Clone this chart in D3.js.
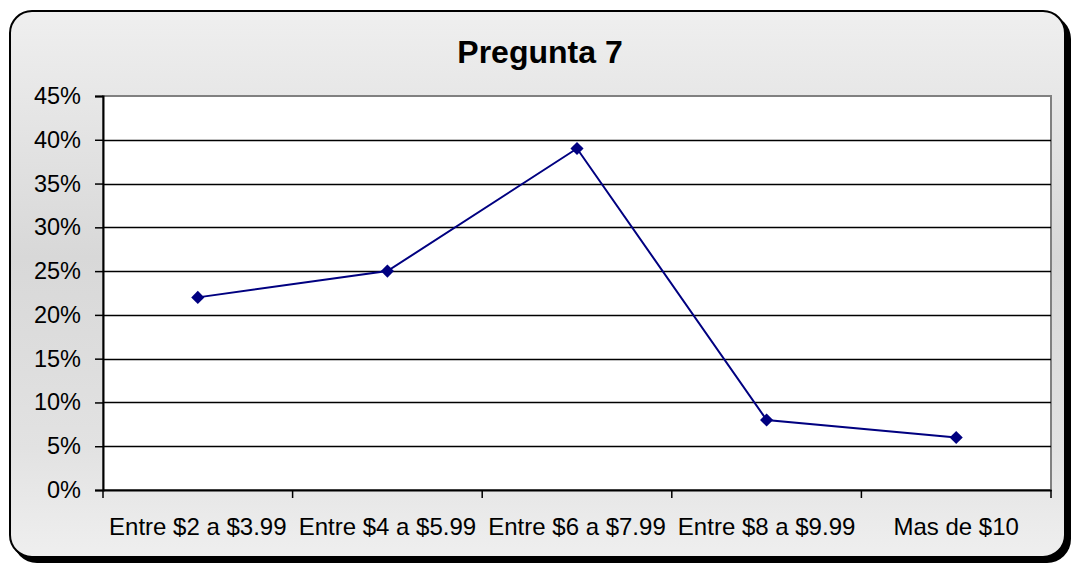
<!DOCTYPE html>
<html>
<head>
<meta charset="utf-8">
<script src="https://cdn.jsdelivr.net/npm/d3@7"></script>
<style>
  body { margin: 0; background: #fff; }
  text { font-family: "Liberation Sans", Arial, sans-serif; }
</style>
</head>
<body>
<div id="chart"></div>
<script>
const categories = ['Entre $2 a $3.99', 'Entre $4 a $5.99', 'Entre $6 a $7.99', 'Entre $8 a $9.99', 'Mas de $10'];
const values = [0.22, 0.25, 0.39, 0.08, 0.06];
const yTicks = [0, 0.05, 0.10, 0.15, 0.20, 0.25, 0.30, 0.35, 0.40, 0.45];

const width = 1074, height = 566;
const plot = { left: 103, right: 1051, top: 96, bottom: 490 };

const svg = d3.select('#chart').append('svg')
  .attr('width', width)
  .attr('height', height);

const defs = svg.append('defs');
const grad = defs.append('linearGradient')
  .attr('id', 'bg').attr('x1', 0).attr('y1', 0).attr('x2', 0).attr('y2', 1);
grad.append('stop').attr('offset', '0%').attr('stop-color', '#efefef');
grad.append('stop').attr('offset', '45%').attr('stop-color', '#d8d8d8');
grad.append('stop').attr('offset', '80%').attr('stop-color', '#e2e2e2');
grad.append('stop').attr('offset', '100%').attr('stop-color', '#efefef');

// shadow + frame
svg.append('rect')
  .attr('x', 13).attr('y', 15).attr('width', 1058).attr('height', 548)
  .attr('rx', 24).attr('fill', '#000');
svg.append('rect')
  .attr('x', 10).attr('y', 11).attr('width', 1055).attr('height', 546)
  .attr('rx', 22).attr('fill', 'url(#bg)')
  .attr('stroke', '#000').attr('stroke-width', 2);

svg.append('text')
  .attr('x', 540).attr('y', 63)
  .attr('text-anchor', 'middle')
  .attr('font-size', 32).attr('font-weight', 'bold')
  .text('Pregunta 7');

const x = d3.scaleBand().domain(categories).range([plot.left, plot.right]);
const y = d3.scaleLinear().domain([0, 0.45]).range([plot.bottom, plot.top]);

// plot area
svg.append('rect')
  .attr('x', plot.left).attr('y', plot.top)
  .attr('width', plot.right - plot.left).attr('height', plot.bottom - plot.top)
  .attr('fill', '#fff').attr('stroke', '#808080').attr('stroke-width', 2);

// gridlines
svg.append('g').selectAll('line')
  .data(yTicks.filter(d => d > 0 && d < 0.45))
  .join('line')
  .attr('x1', plot.left).attr('x2', plot.right)
  .attr('y1', d => Math.round(y(d)) + 0.5).attr('y2', d => Math.round(y(d)) + 0.5)
  .attr('stroke', '#000').attr('stroke-width', 1.5);

// y axis
const yAxis = svg.append('g')
  .attr('transform', `translate(${plot.left},0)`)
  .call(d3.axisLeft(y).tickValues(yTicks).tickFormat(d3.format('.0%')).tickSize(8).tickPadding(14));
yAxis.select('.domain').attr('stroke', '#000').attr('stroke-width', 2);
yAxis.selectAll('.tick line').attr('stroke', '#000').attr('stroke-width', 1.5);
yAxis.selectAll('.tick text').attr('font-size', 23.5).attr('fill', '#000')
  .style('font-family', '"Liberation Sans", Arial, sans-serif');

// x axis
const xAxis = svg.append('g')
  .attr('transform', `translate(0,${plot.bottom})`)
  .call(d3.axisBottom(x).tickSize(0).tickPadding(28));
xAxis.select('.domain').attr('stroke', '#000').attr('stroke-width', 2);
xAxis.selectAll('.tick text').attr('font-size', 24).attr('fill', '#000')
  .style('font-family', '"Liberation Sans", Arial, sans-serif');
const bounds = categories.map(c => x(c)).concat([plot.right]);
xAxis.append('g').selectAll('line')
  .data(bounds)
  .join('line')
  .attr('x1', d => d).attr('x2', d => d)
  .attr('y1', 0).attr('y2', 8)
  .attr('stroke', '#000').attr('stroke-width', 1.5);

// line
const pts = categories.map((c, i) => [x(c) + x.bandwidth() / 2, y(values[i])]);
svg.append('path')
  .attr('d', d3.line()(pts))
  .attr('fill', 'none')
  .attr('stroke', '#000080')
  .attr('stroke-width', 2);

svg.append('g').selectAll('path')
  .data(pts)
  .join('path')
  .attr('transform', d => `translate(${d[0]},${d[1]})`)
  .attr('d', d3.symbol().type(d3.symbolDiamond2).size(110)())
  .attr('fill', '#000080');
</script>
</body>
</html>
